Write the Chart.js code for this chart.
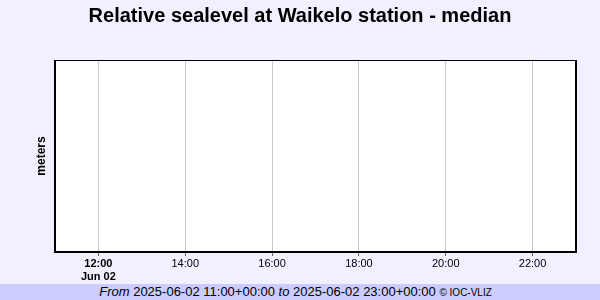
<!DOCTYPE html>
<html>
<head>
<meta charset="utf-8">
<script src="https://cdn.jsdelivr.net/npm/chart.js@4/dist/chart.umd.min.js"></script>
<style>
  html, body { margin: 0; padding: 0; background: #f0f0ff; width: 600px; height: 300px; overflow: hidden; }
  #wrap { position: relative; width: 600px; height: 284px; }
  #footer { width: 600px; height: 16px; background: #ccccff; font-family: "Liberation Sans", Arial, sans-serif;
            font-size: 13px; line-height: 16px; text-align: center; color: #000; white-space: nowrap;
            box-sizing: border-box; padding-right: 9px; }
  #footer i { font-style: italic; }
  #footer small { font-size: 10px; }
</style>
</head>
<body>
<div id="wrap"><canvas id="c" width="600" height="284"></canvas></div>
<div id="footer"><i>From</i> 2025-06-02 11:00+00:00 <i>to</i> 2025-06-02 23:00+00:00 <small>© IOC-VLIZ</small></div>
<script>
// ---- data ----
const chartTitle = 'Relative sealevel at Waikelo station - median';
const yAxisTitle = 'meters';
const xMinHour = 11;
const xMaxHour = 23;
const tickHours = [12, 14, 16, 18, 20, 22];
const tickLabels = ['12:00', '14:00', '16:00', '18:00', '20:00', '22:00'];
const dateLabel = 'Jun 02';
const seriesHours = [];   // no observations in the window
const seriesValues = [];

const FONT = '"Liberation Sans", Arial, sans-serif';

const frame = {
  id: 'frame',
  afterDraw(chart) {
    const {ctx, chartArea: a} = chart;
    ctx.save();
    ctx.fillStyle = '#000';
    ctx.fillRect(a.left - 1, a.top, 2, a.bottom - a.top + 1);      // left
    ctx.fillRect(a.left - 1, a.top, a.right - a.left + 1, 1);      // top
    ctx.fillRect(a.right - 1, a.top, 2, a.bottom - a.top + 1);     // right
    ctx.fillRect(a.left - 1, a.bottom - 1, a.right - a.left + 2, 2); // bottom
    ctx.restore();
  }
};
const bg = {
  id: 'bg',
  beforeDraw(chart) {
    const {ctx, chartArea: a} = chart;
    ctx.save();
    ctx.fillStyle = '#ffffff';
    ctx.fillRect(a.left, a.top, a.right - a.left, a.bottom - a.top);
    ctx.restore();
  }
};

new Chart(document.getElementById('c'), {
  type: 'line',
  data: {
    datasets: [{
      label: 'median',
      data: seriesHours.map((h, i) => ({x: h, y: seriesValues[i]})),
      borderColor: '#0000ff',
      pointRadius: 0
    }]
  },
  options: {
    responsive: false,
    animation: false,
    layout: { padding: 0 },
    plugins: {
      legend: { display: false },
      tooltip: { enabled: false },
      title: {
        display: true,
        text: chartTitle,
        color: '#000',
        font: { family: FONT, size: 20, weight: 'bold' },
        padding: { top: 4, bottom: 32 }
      }
    },
    scales: {
      x: {
        type: 'linear',
        min: xMinHour,
        max: xMaxHour,
        afterBuildTicks(scale) { scale.ticks = tickHours.map(v => ({value: v})); },
        afterFit(scale) { scale.height = 32; },
        border: { display: false },
        grid: { color: '#c8c8c8', tickColor: '#666', tickLength: 4, drawTicks: true },
        ticks: {
          autoSkip: false,
          maxRotation: 0,
          padding: 1,
          color: '#000',
          font: (ctx) => ({ family: FONT, size: 11, weight: ctx.index === 0 ? 'bold' : 'normal' }),
          callback: (v, i) => {
            const k = tickHours.indexOf(v);
            const lbl = k >= 0 ? tickLabels[k] : '';
            return k === 0 ? [lbl, dateLabel] : lbl;
          }
        }
      },
      y: {
        min: 0,
        max: 1,
        afterFit(scale) { scale.width = 55; },
        border: { display: false },
        grid: { display: false },
        ticks: { display: false },
        title: {
          display: true,
          text: yAxisTitle,
          color: '#000',
          font: { family: FONT, size: 12, weight: 'bold' },
          padding: { top: 34, bottom: 0 }
        }
      },
      yRight: {
        position: 'right',
        min: 0,
        max: 1,
        afterFit(scale) { scale.width = 24; },
        border: { display: false },
        grid: { display: false },
        ticks: { display: false }
      }
    }
  },
  plugins: [bg, frame]
});
</script>
</body>
</html>
